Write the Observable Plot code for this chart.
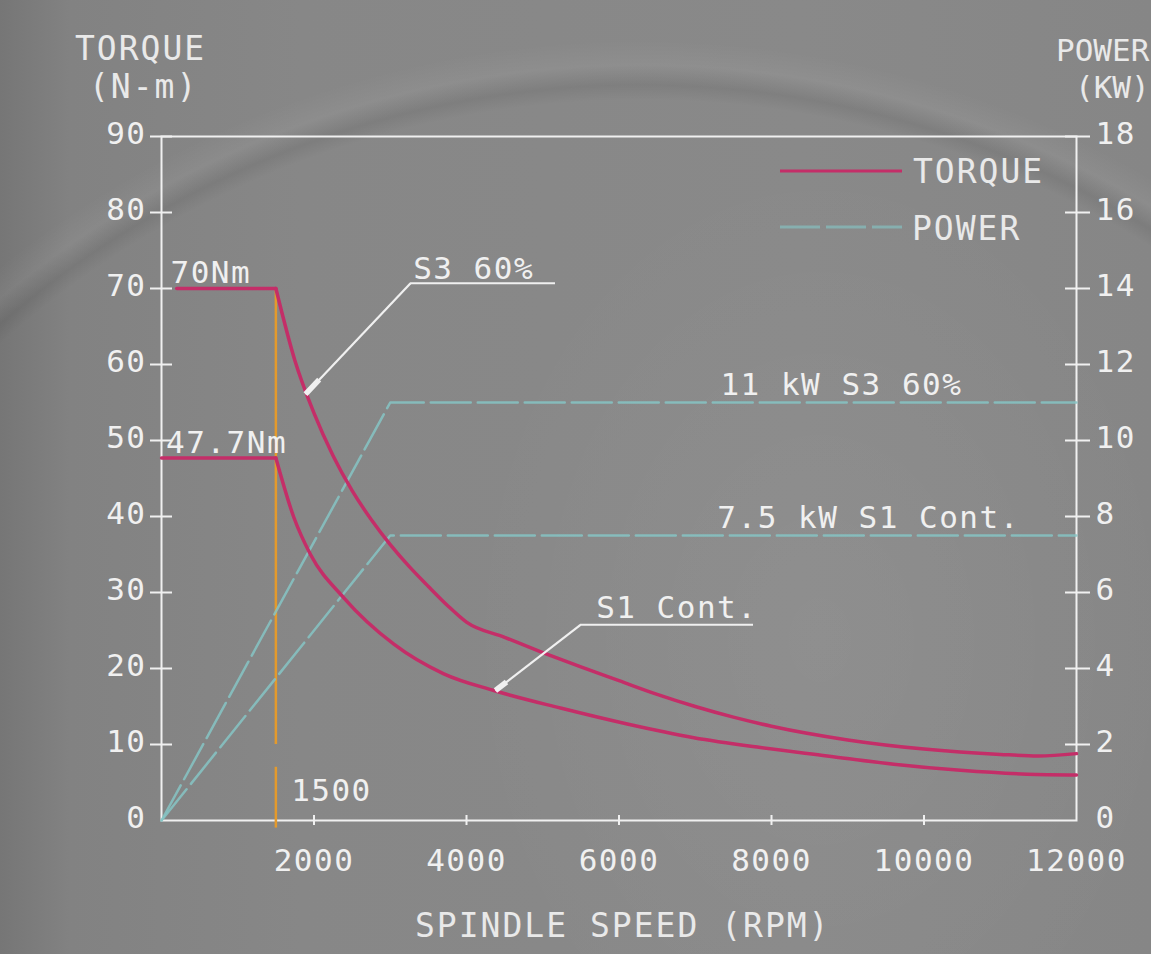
<!DOCTYPE html>
<html><head><meta charset="utf-8">
<script src="https://cdn.jsdelivr.net/npm/d3@7"></script>
<script src="https://cdn.jsdelivr.net/npm/@observablehq/plot@0.6"></script>
<style>
html,body{margin:0;padding:0;width:1151px;height:954px;overflow:hidden;}
body{
  position:relative;
  font-family:"DejaVu Sans Mono", monospace;
  background:
    radial-gradient(circle at 640px 1060px, rgba(0,0,0,0) 0 960px, rgba(0,0,0,0.07) 975px, rgba(255,255,255,0.05) 995px, rgba(0,0,0,0) 1020px),
    radial-gradient(ellipse 520px 700px at 820px 640px, rgba(255,255,255,0.05), rgba(255,255,255,0) 70%),
    linear-gradient(90deg, #767676 0px, #828282 70px, #878787 300px, #898989 800px, #868686 1151px);
}
#chart{position:absolute;left:0;top:0;}
.lbl{position:absolute;font-size:33px;letter-spacing:2px;color:#e9e9e9;white-space:nowrap;line-height:1;}
.lbl.tight{font-size:31px;letter-spacing:0;}
#legend{position:absolute;left:0;top:0;}
</style></head><body>
<div id="chart"></div>
<div class="lbl" style="left:75px;top:32px;">TORQUE</div>
<div class="lbl" style="left:89px;top:70px;">(N-m)</div>
<div class="lbl tight" style="left:1056px;top:35px;">POWER</div>
<div class="lbl tight" style="left:1075px;top:72px;">(KW)</div>
<div class="lbl" style="left:415px;top:909px;">SPINDLE SPEED (RPM)</div>
<svg id="legend" width="1151" height="260">
  <line x1="780" y1="171" x2="902" y2="171" stroke="#c42e68" stroke-width="3"/>
  <line x1="780" y1="227" x2="902" y2="227" stroke="#86bcbc" stroke-width="3" stroke-dasharray="40,6" opacity="0.75"/>
</svg>
<div class="lbl" style="left:913px;top:155px;">TORQUE</div>
<div class="lbl" style="left:912px;top:212px;">POWER</div>
<script>
// ---- data (rpm, N-m / kW) ----
const torqueS3Flat = [{rpm:200, nm:70}, {rpm:1500, nm:70}];
const torqueS3Curve = [
  {rpm:1500, nm:70}, {rpm:1750, nm:60.5}, {rpm:2000, nm:53.6}, {rpm:2250, nm:48.0},
  {rpm:2500, nm:43.4}, {rpm:2750, nm:39.6}, {rpm:3000, nm:36.3}, {rpm:3250, nm:33.4},
  {rpm:3500, nm:30.8}, {rpm:3750, nm:28.3}, {rpm:4000, nm:26.1}, {rpm:4500, nm:24.1},
  {rpm:5000, nm:22.1}, {rpm:5500, nm:20.2}, {rpm:6000, nm:18.4}, {rpm:6500, nm:16.6},
  {rpm:7000, nm:15.0}, {rpm:7500, nm:13.6}, {rpm:8000, nm:12.4}, {rpm:9000, nm:10.6},
  {rpm:10000, nm:9.4}, {rpm:11000, nm:8.7}, {rpm:11500, nm:8.5}, {rpm:12000, nm:8.8}
];
const torqueS1Flat = [{rpm:0, nm:47.7}, {rpm:1500, nm:47.7}];
const torqueS1Curve = [
  {rpm:1500, nm:47.7}, {rpm:1735, nm:39.9}, {rpm:1954, nm:35.0}, {rpm:2391, nm:29.3},
  {rpm:3047, nm:23.2}, {rpm:3702, nm:19.3}, {rpm:4358, nm:17.1}, {rpm:5233, nm:14.8},
  {rpm:6108, nm:12.7}, {rpm:6981, nm:10.9}, {rpm:7856, nm:9.6}, {rpm:8730, nm:8.5},
  {rpm:9604, nm:7.4}, {rpm:10479, nm:6.6}, {rpm:11353, nm:6.1}, {rpm:12000, nm:6.0}
];
const powerS3 = [{rpm:0, kw:0}, {rpm:3000, kw:11}, {rpm:12000, kw:11}];
const powerS1 = [{rpm:0, kw:0}, {rpm:3000, kw:7.5}, {rpm:12000, kw:7.5}];
const baseSpeed = [{rpm:1500, from:10, to:70}, {rpm:1500, from:-1, to:7}];
const xTicks = [2000, 4000, 6000, 8000, 10000, 12000];
const yTicks = [0, 10, 20, 30, 40, 50, 60, 70, 80, 90];
const kwPerNm = 18 / 90; // right axis: 0–18 kW over 0–90 N-m
const torqueNotes = [
  {text:"70Nm", rpm:118, nm:72.0},
  {text:"47.7Nm", rpm:60, nm:49.6},
  {text:"1500", rpm:1700, nm:3.9},
  {text:"S3 60%", rpm:3300, nm:72.6},
  {text:"S1 Cont.", rpm:5700, nm:27.9}
];
const powerNotes = [
  {text:"11 kW S3 60%", rpm:7330, kw:11.45},
  {text:"7.5 kW S1 Cont.", rpm:7290, kw:7.95}
];
const leaders = [
  {rpm1:3266, nm1:70.7, rpm2:1889, nm2:56.1},
  {rpm1:5495, nm1:25.75, rpm2:4380, nm2:17.1}
];
const underlines = [
  {nm:70.7, from:3266, to:5167},
  {nm:25.75, from:5495, to:7764}
];
const stubShare = 0.13; // thick tip of each leader

const WHITE = "#f0f0f0";
const MAGENTA = "#c42e68";
const CYAN = "#86c4c4";
const ORANGE = "#e49a2c";

const plot = Plot.plot({
  width: 1151, height: 954,
  marginLeft: 161, marginRight: 75, marginTop: 136, marginBottom: 134,
  x: {domain: [0, 12000]},
  y: {domain: [0, 90]},
  style: {background: "transparent", color: WHITE, fontFamily: "DejaVu Sans Mono, monospace", fontSize: "31px", overflow: "visible"},
  marks: [
    Plot.frame({stroke: WHITE, strokeWidth: 2}),
    // tick marks crossing the axes
    Plot.ruleY(yTicks.slice(1), {y: d => d, x1: 0, x2: 0, insetLeft: -11, insetRight: -11, stroke: WHITE, strokeWidth: 2}),
    Plot.ruleY(yTicks.slice(1), {y: d => d, x1: 12000, x2: 12000, insetLeft: -11, insetRight: -14, stroke: WHITE, strokeWidth: 2}),
    Plot.ruleX(xTicks.slice(0, -1), {x: d => d, y1: 0, y2: 0, insetTop: -5, insetBottom: -5, stroke: WHITE, strokeWidth: 2}),
    Plot.axisY({ticks: yTicks, tickSize: 0, tickPadding: 15, label: null, fontSize: 31, dy: -2, fill: WHITE}),
    Plot.axisY({anchor: "right", ticks: yTicks, tickSize: 0, tickPadding: 19, label: null, fontSize: 31, dy: -2, fill: WHITE,
      tickFormat: d => String(Math.round(d * kwPerNm))}),
    Plot.axisX({ticks: xTicks, tickSize: 0, tickPadding: 28, label: null, fontSize: 31, fill: WHITE, tickFormat: d => String(d)}),
    // base speed line
    Plot.ruleX(baseSpeed, {x: "rpm", y1: "from", y2: "to", stroke: ORANGE, strokeWidth: 2.5}),
    // power lines (kW mapped onto the N-m scale)
    Plot.line(powerS3, {x: "rpm", y: d => d.kw / kwPerNm, stroke: CYAN, strokeWidth: 2.5, strokeDasharray: "40,7", strokeOpacity: 0.85}),
    Plot.line(powerS1, {x: "rpm", y: d => d.kw / kwPerNm, stroke: CYAN, strokeWidth: 2.5, strokeDasharray: "40,7", strokeOpacity: 0.85}),
    // torque curves
    Plot.line(torqueS3Flat, {x: "rpm", y: "nm", stroke: MAGENTA, strokeWidth: 3.5}),
    Plot.line(torqueS3Curve, {x: "rpm", y: "nm", stroke: MAGENTA, strokeWidth: 3.5, curve: "monotone-x"}),
    Plot.line(torqueS1Flat, {x: "rpm", y: "nm", stroke: MAGENTA, strokeWidth: 3.5}),
    Plot.line(torqueS1Curve, {x: "rpm", y: "nm", stroke: MAGENTA, strokeWidth: 3.5, curve: "monotone-x"}),
    // leaders
    Plot.ruleY(underlines, {y: "nm", x1: "from", x2: "to", stroke: WHITE, strokeWidth: 2}),
    Plot.link(leaders, {x1: "rpm1", y1: "nm1", x2: "rpm2", y2: "nm2", stroke: WHITE, strokeWidth: 2.2}),
    Plot.link(leaders, {x1: "rpm2", y1: "nm2",
      x2: d => d.rpm2 + stubShare * (d.rpm1 - d.rpm2), y2: d => d.nm2 + stubShare * (d.nm1 - d.nm2),
      stroke: WHITE, strokeWidth: 5.5}),
    // annotations
    Plot.text(torqueNotes, {x: "rpm", y: "nm", text: "text", textAnchor: "start", lineAnchor: "middle", fill: WHITE, fontSize: 31}),
    Plot.text(powerNotes, {x: "rpm", y: d => d.kw / kwPerNm, text: "text", textAnchor: "start", lineAnchor: "middle", fill: WHITE, fontSize: 31})
  ]
});
plot.querySelectorAll("text").forEach(t => t.style.letterSpacing = "1.5px");
document.getElementById("chart").appendChild(plot);
</script>
</body></html>
